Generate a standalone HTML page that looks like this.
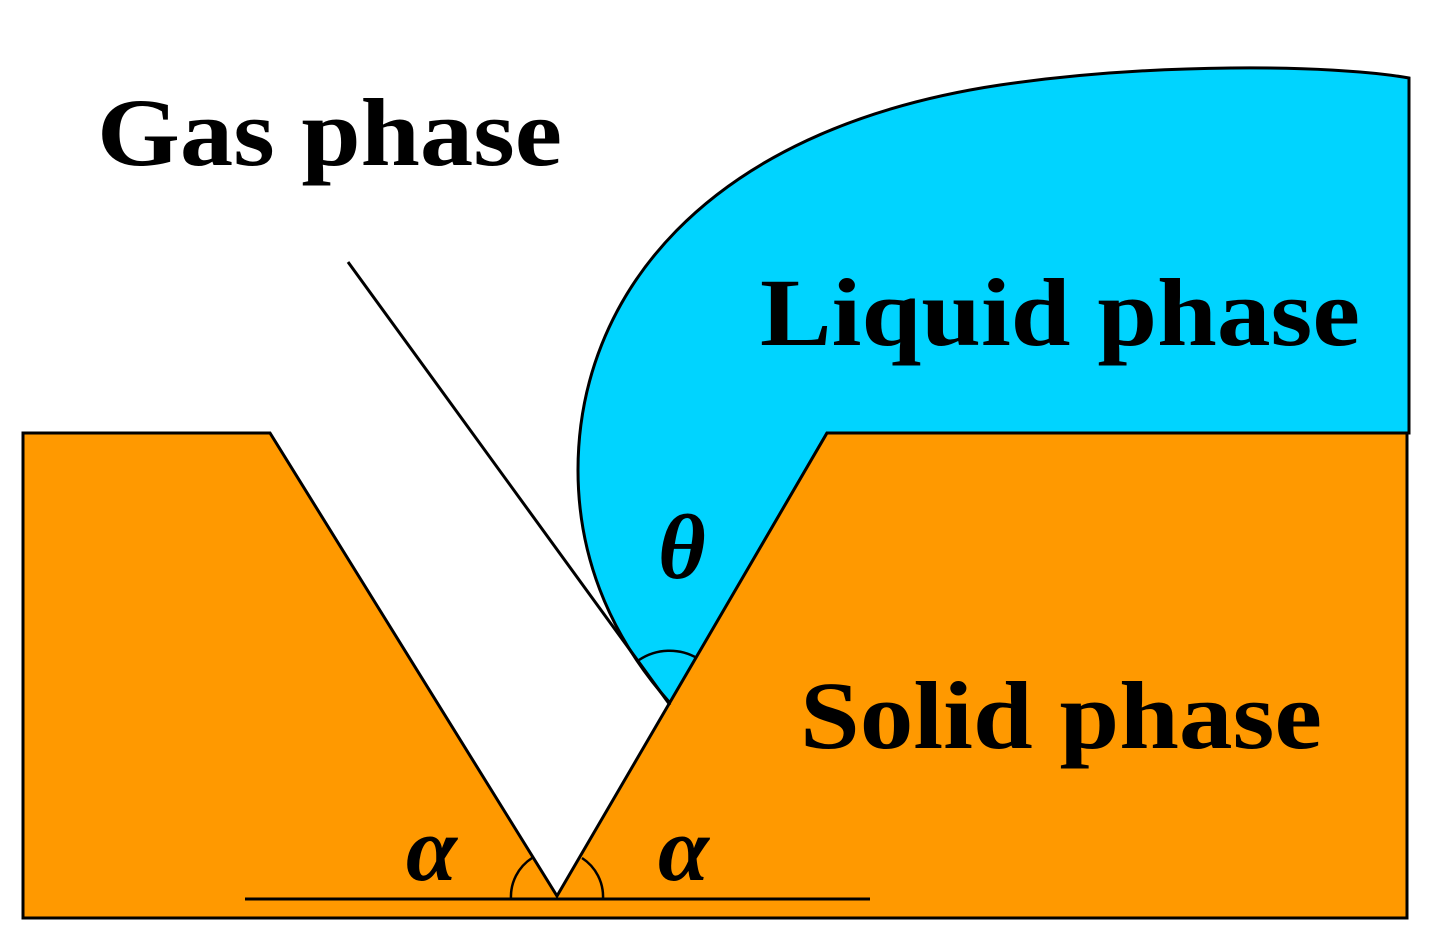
<!DOCTYPE html>
<html><head><style>
body{margin:0;background:#fff;}
svg{display:block}
text{font-family:"Liberation Serif",serif;font-weight:bold;fill:#000}
</style></head><body>
<svg width="1429" height="943" viewBox="0 0 1429 943" xmlns="http://www.w3.org/2000/svg">
<rect width="1429" height="943" fill="#fff"/>
<path d="M670,703 C605,630 578,550 578,470 C578,300 700,130 1000,85 C1150,63 1330,64 1409,78 L1409,433 L827,433 Z" fill="#00d4ff" stroke="#000" stroke-width="3"/>
<path d="M23,433 L270,433 L557,896 L827,433 L1407,433 L1407,918 L23,918 Z" fill="#ff9900" stroke="#000" stroke-width="3"/>
<line x1="348" y1="262" x2="670" y2="705" stroke="#000" stroke-width="3"/>
<line x1="245" y1="899" x2="870" y2="899" stroke="#000" stroke-width="3"/>
<path d="M639,660 A55,55 0 0 1 697,658" fill="none" stroke="#000" stroke-width="2.5"/>
<path d="M511,899 A46,46 0 0 1 532,858" fill="none" stroke="#000" stroke-width="2.5"/>
<path d="M582,858 A46,46 0 0 1 603,899" fill="none" stroke="#000" stroke-width="2.5"/>
<text x="97" y="165" font-size="96" textLength="465" lengthAdjust="spacingAndGlyphs">Gas phase</text>
<text x="760" y="345" font-size="96" textLength="600" lengthAdjust="spacingAndGlyphs">Liquid phase</text>
<text x="800" y="748" font-size="96" textLength="522" lengthAdjust="spacingAndGlyphs">Solid phase</text>
<text x="658" y="578" font-size="92" font-style="italic">θ</text>
<text x="406" y="880" font-size="92" font-style="italic">α</text>
<text x="658" y="880" font-size="92" font-style="italic">α</text>
</svg>
</body></html>
